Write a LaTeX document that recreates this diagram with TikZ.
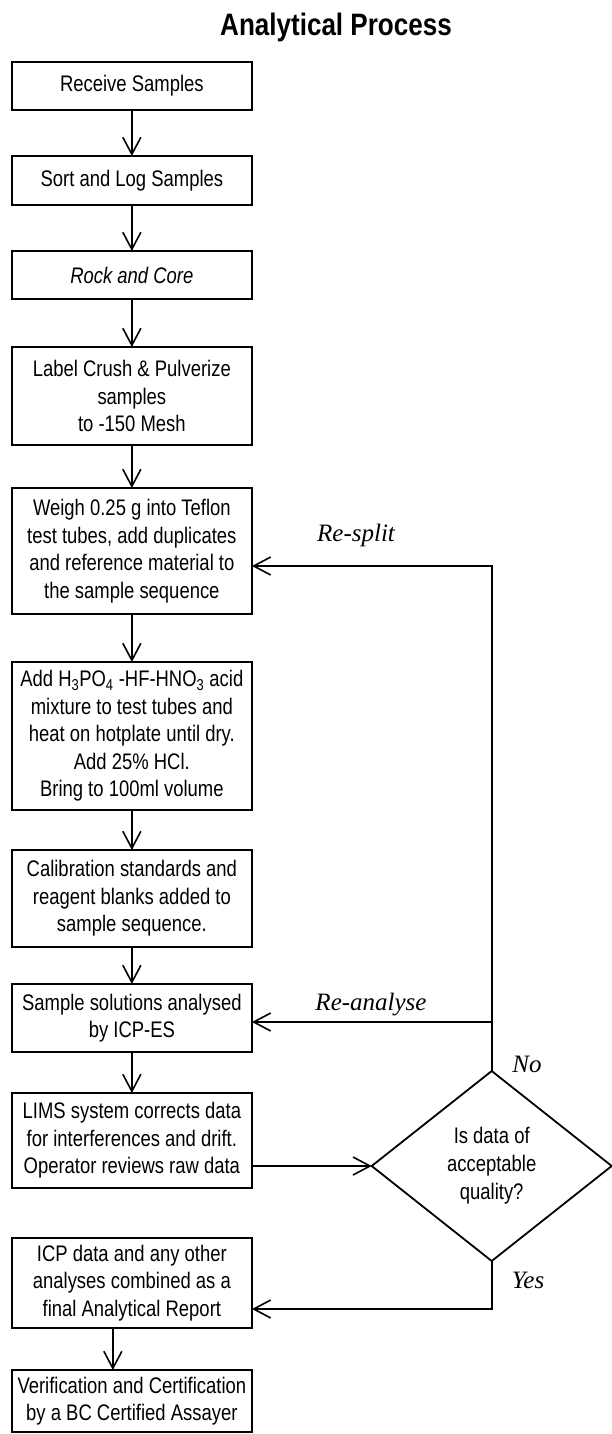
\documentclass[tikz,border=0pt]{standalone}
\usepackage{fontspec}
\setmainfont{Liberation Sans}[FakeStretch=0.82]
\newfontfamily\labfont{Liberation Serif}
\newfontfamily\headfont{Liberation Sans}[FakeStretch=0.84]
\usetikzlibrary{arrows.meta,shapes.geometric}

\tikzset{
  stepbox/.style={draw, line width=1.8, rectangle, minimum width=240.3,
    inner sep=0, outer sep=0, align=center,
    font=\fontsize{22.5}{27.5}\selectfont},
  decision/.style={draw, line width=1.8, diamond, minimum width=240,
    minimum height=190, inner sep=0, outer sep=0, align=center,
    font=\fontsize{22.5}{28}\selectfont},
  flow/.style={line width=1.6, -{Straight Barb[length=17,width=18,line width=1.6]}},
  branch/.style={font=\labfont\itshape\fontsize{25}{30}\selectfont, inner sep=0},
}

\begin{document}
\begin{tikzpicture}[x=1pt,y=-1pt]
\useasboundingbox (0,0) rectangle (611,1434);

% title
\node[font=\headfont\bfseries\fontsize{31}{36}\selectfont, inner sep=0] (title) at (336,27) {Analytical Process};

% process steps
\node[stepbox, minimum height=48]  (b1)  at (131.85,86)    {Receive Samples};
\node[stepbox, minimum height=49]  (b2)  at (131.85,180.5) {Sort and Log Samples};
\node[stepbox, minimum height=48]  (b3)  at (131.85,275)   {\itshape Rock and Core};
\node[stepbox, minimum height=98]  (b4)  at (131.85,396)   {Label Crush \& Pulverize\\samples\\to -150 Mesh};
\node[stepbox, minimum height=126] (b5)  at (131.85,551)   {Weigh 0.25 g into Teflon\\test tubes, add duplicates\\and reference material to\\the sample sequence};
\node[stepbox, minimum height=148] (b6)  at (131.85,736)   {Add H\textsubscript{3}PO\textsubscript{4} -HF-HNO\textsubscript{3} acid\\mixture to test tubes and\\heat on hotplate until dry.\\Add 25\% HCl.\\Bring to 100ml volume};
\node[stepbox, minimum height=97]  (b7)  at (131.85,898.5) {Calibration standards and\\reagent blanks added to\\sample sequence.};
\node[stepbox, minimum height=68]  (b8)  at (131.85,1018)  {Sample solutions analysed\\by ICP-ES};
\node[stepbox, minimum height=95]  (b9)  at (131.85,1140.5) {LIMS system corrects data\\for interferences and drift.\\Operator reviews raw data};
\node[stepbox, minimum height=90]  (b10) at (131.85,1283)  {ICP data and any other\\analyses combined as a\\final Analytical Report};
\node[stepbox, minimum height=62]  (b11) at (131.85,1401)  {Verification and Certification\\by a BC Certified Assayer};

% quality check
\node[decision] (dq) at (491.7,1166) {Is data of\\acceptable\\quality?};

% loop corners
\coordinate (splitc) at (491.7,566);
\coordinate (anac)   at (491.7,1022);
\coordinate (yesc)   at (491.7,1309);

% main sequence
\draw[flow] (b1) -- (b2);
\draw[flow] (b2) -- (b3);
\draw[flow] (b3) -- (b4);
\draw[flow] (b4) -- (b5);
\draw[flow] (b5) -- (b6);
\draw[flow] (b6) -- (b7);
\draw[flow] (b7) -- (b8);
\draw[flow] (b8) -- (b9);
\draw[flow] ([xshift=-19]b10.south) -- ([xshift=-19]b11.north);

% into the decision
\draw[flow] (b9.east |- dq.west) -- (dq.west);

% No branch: back to weighing, and re-analysis
\draw[flow] (dq.north) -- (splitc) -- (b5.east |- splitc);
\draw[flow] (anac) -- (b8.east |- anac);

% Yes branch
\draw[flow] (dq.south) -- (yesc) -- (b10.east |- yesc);

% branch labels
\node[branch] (lsplit) at (356,535)  {Re-split};
\node[branch] (lana)   at (371,1005) {Re-analyse};
\node[branch] (lno)    at (527,1064) {No};
\node[branch] (lyes)   at (528,1280) {Yes};
\end{tikzpicture}
\end{document}
